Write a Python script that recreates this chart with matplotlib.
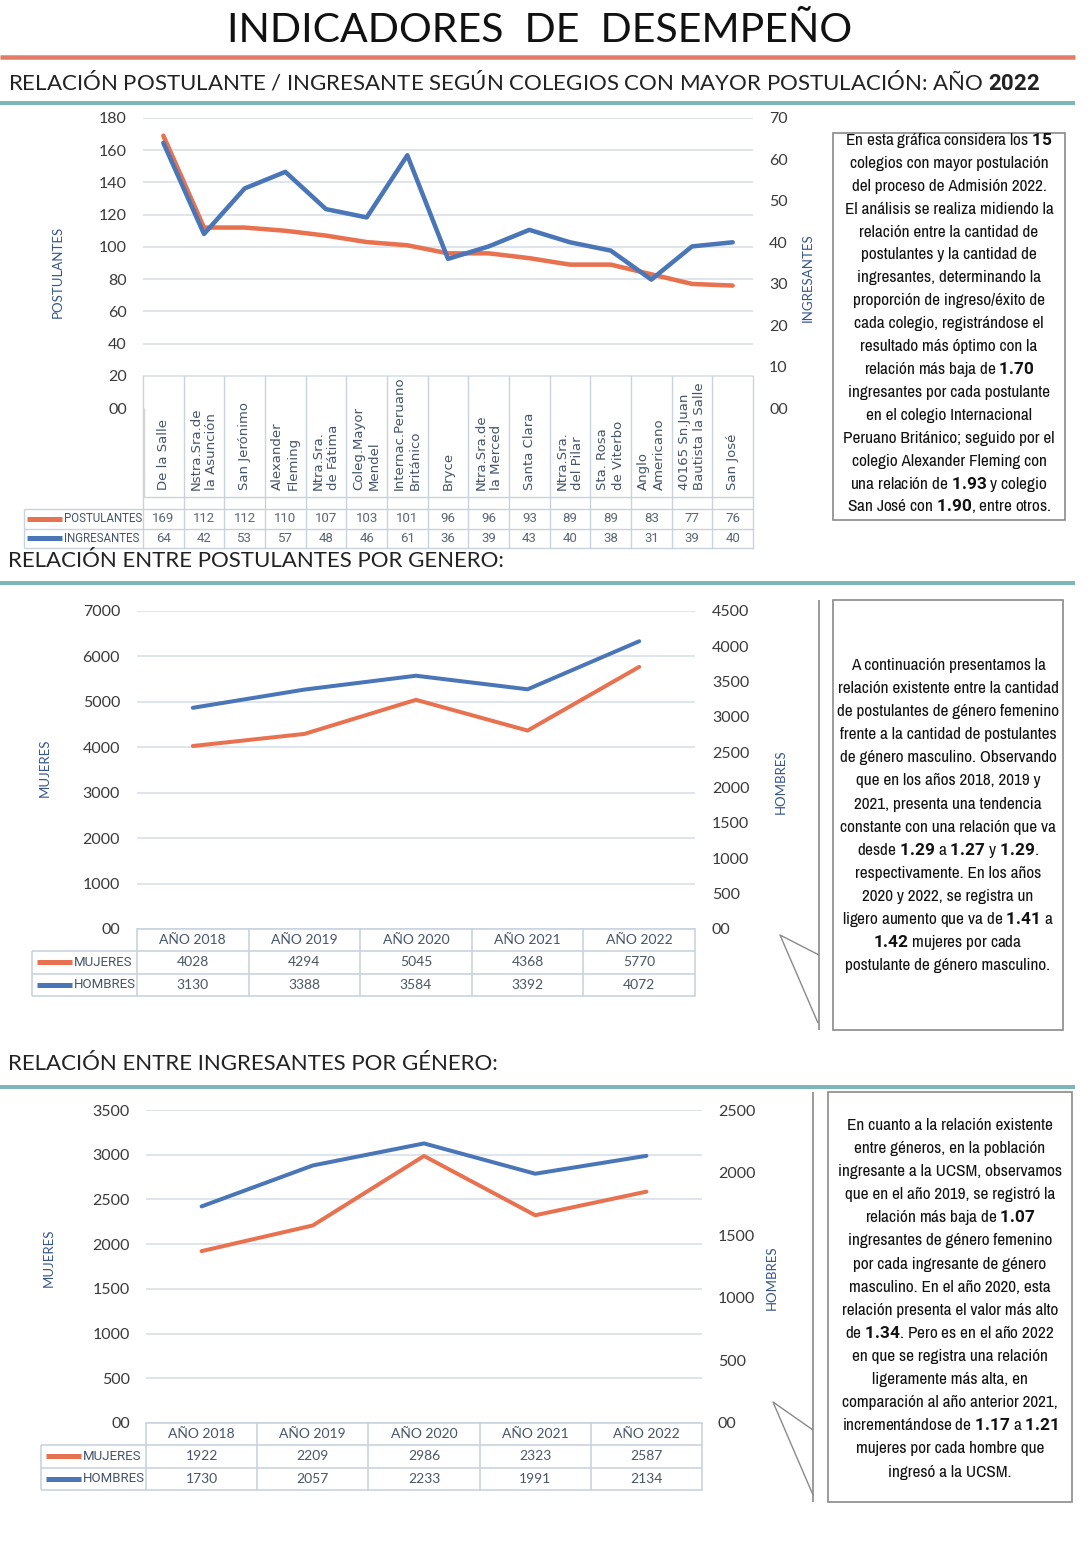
import re
import numpy as np
import matplotlib.pyplot as plt
from matplotlib import font_manager
from matplotlib.lines import Line2D
from matplotlib.patches import Rectangle
from matplotlib.ticker import FuncFormatter
from matplotlib.transforms import blended_transform_factory as blend

W, H = 1091, 1543

# --- datos ---------------------------------------------------------------
colegios = ['De la Salle', 'Nstra.Sra.de\nla Asunción', 'San Jerónimo', 'Alexander\nFleming',
            'Ntra.Sra.\nde Fátima', 'Coleg.Mayor\nMendel', 'Internac.Peruano\nBritánico', 'Bryce',
            'Ntra.Sra.de\nla Merced', 'Santa Clara', 'Ntra.Sra.\ndel Pilar', 'Sta. Rosa\nde Viterbo',
            'Anglo\nAmericano', '40165 Sn.Juan\nBautista la Salle', 'San José']
postulantes = [169, 112, 112, 110, 107, 103, 101, 96, 96, 93, 89, 89, 83, 77, 76]
ingresantes = [64, 42, 53, 57, 48, 46, 61, 36, 39, 43, 40, 38, 31, 39, 40]

anios = ['AÑO 2018', 'AÑO 2019', 'AÑO 2020', 'AÑO 2021', 'AÑO 2022']
post_mujeres = [4028, 4294, 5045, 4368, 5770]
post_hombres = [3130, 3388, 3584, 3392, 4072]
ingr_mujeres = [1922, 2209, 2986, 2323, 2587]
ingr_hombres = [1730, 2057, 2233, 1991, 2134]

texto1 = ['En esta gráfica considera los **15**', 'colegios con mayor postulación',
          'del proceso de Admisión 2022.', 'El análisis se realiza midiendo la',
          'relación entre la cantidad de', 'postulantes y la cantidad de',
          'ingresantes, determinando la', 'proporción de ingreso/éxito de',
          'cada colegio, registrándose el', 'resultado más óptimo con la',
          'relación más baja de **1.70**', 'ingresantes por cada postulante',
          'en el colegio Internacional', 'Peruano Británico; seguido por el',
          'colegio Alexander Fleming con', 'una relación de **1.93** y colegio',
          'San José con **1.90**, entre otros.']
texto2 = ['A continuación presentamos la', 'relación existente entre la cantidad',
          'de postulantes de género femenino', 'frente a la cantidad de postulantes',
          'de género masculino. Observando', 'que en los años 2018, 2019 y',
          '2021, presenta una tendencia', 'constante con una relación que va',
          'desde **1.29** a **1.27** y **1.29**.', 'respectivamente. En los años',
          '2020 y 2022, se registra un', 'ligero aumento que va de **1.41** a',
          '**1.42** mujeres por cada', 'postulante de género masculino.']
texto3 = ['En cuanto a la relación existente', 'entre géneros, en la población',
          'ingresante a la UCSM, observamos', 'que en el año 2019, se registró la',
          'relación más baja de **1.07**', 'ingresantes de género femenino',
          'por cada ingresante de género', 'masculino. En el año 2020, esta',
          'relación presenta el valor más alto', 'de **1.34**. Pero es en el año 2022',
          'en que se registra una relación', 'ligeramente más alta, en',
          'comparación al año anterior 2021,', 'incrementándose de **1.17** a **1.21**',
          'mujeres por cada hombre que', 'ingresó a la UCSM.']

# --- estilo ----------------------------------------------------------------
ORANGE = '#E8714F'
BLUE = '#4A76B8'
GRID = '#DCE3EC'
TICK = '#3A3A3A'
SLATE = '#44546A'
NAVY = '#35558C'
TEAL = '#7DB6B9'
HEAD = '#E27C66'
BORDER = '#C8D3E0'
SANS = ['Lato', 'DejaVu Sans']

# buscar una fuente estrecha si existe; si no, Roboto mas pequena
narrow = [f for f in font_manager.fontManager.ttflist
          if f.style == 'normal' and f.weight == 400
          and (f.stretch in ('condensed', 'semi-condensed')
               or 'Narrow' in f.name or 'Condensed' in f.name)]
narrow.sort(key=lambda f: f.name)
if narrow:
    NARROW, STRETCH, BOX_SIZE = [narrow[0].name, 'DejaVu Sans'], narrow[0].stretch, 12.4
else:
    NARROW, STRETCH, BOX_SIZE = ['Roboto', 'DejaVu Sans'], 'normal', 9.6

plt.rcParams['mathtext.fontset'] = 'custom'
plt.rcParams['mathtext.rm'] = 'Roboto'
plt.rcParams['mathtext.bf'] = 'Roboto:bold'
fig = plt.figure(figsize=(W / 100, H / 100), dpi=100)


def fx(x): return x / W
def fy(y): return 1 - y / H
def pt(px): return px * 0.72


def fline(xs, ys, color, lw):
    fig.add_artist(Line2D([fx(x) for x in xs], [fy(y) for y in ys], color=color,
                          lw=lw, transform=fig.transFigure, solid_capstyle='butt'))


def px_axes(x0, y0, x1, y1):
    return fig.add_axes([fx(x0), fy(y1), (x1 - x0) / W, (y1 - y0) / H])


zero_fmt = FuncFormatter(lambda v, _: '00' if v == 0 else f'{v:.0f}')


def setup_axes(box, llim, lstep, rlim, rstep, n, lpad, rpad):
    ax = px_axes(*box)
    ax.set_xlim(-0.5, n - 0.5)
    ax.set_ylim(0, llim)
    ax.set_yticks(np.arange(0, llim + 1, lstep))
    ax.set_xticks([])
    ax.yaxis.set_major_formatter(zero_fmt)
    ax.grid(axis='y', color=GRID, lw=1.3)
    ax.set_axisbelow(True)
    ax.tick_params(axis='y', length=0, pad=pt(lpad), labelsize=11.5, labelcolor=TICK,
                   labelfontfamily='Lato')
    ax2 = ax.twinx()
    ax2.set_ylim(0, rlim)
    ax2.set_yticks(np.arange(0, rlim + 1, rstep))
    ax2.yaxis.set_major_formatter(zero_fmt)
    ax2.tick_params(axis='y', length=0, pad=pt(rpad), labelsize=11.5, labelcolor=TICK,
                    labelfontfamily='Lato')
    for a in (ax, ax2):
        for s in a.spines.values():
            s.set_visible(False)
    return ax, ax2


def legend_cell(x0, y, color, label, size):
    fline([x0, x0 + 35], [y, y], color, pt(5))
    fig.text(fx(x0 + 37), fy(y), label, color=SLATE, fontsize=size, va='center',
             ha='left', family=['Roboto', 'DejaVu Sans'])


def text_box(lines, cx, y_first, step):
    for i, s in enumerate(lines):
        s = re.sub(r'\*\*(.+?)\*\*', r'$\\mathbf{\1}$', s)
        fig.text(fx(cx), fy(y_first + i * step + 5), s, ha='center', va='baseline',
                 fontsize=BOX_SIZE, family=NARROW, fontstretch=STRETCH, color='#111111')


# --- cabecera ---------------------------------------------------------------
fig.text(fx(540), fy(31), 'INDICADORES  DE  DESEMPEÑO', ha='center', va='center',
         fontsize=29.5, family=SANS, color='#111111')
fline([0, 1075], [57, 57], HEAD, pt(4.5))
fig.text(fx(8), fy(81), r'RELACIÓN POSTULANTE / INGRESANTE SEGÚN COLEGIOS CON MAYOR POSTULACIÓN: AÑO $\mathbf{2022}$',
         ha='left', va='center', fontsize=16, family=SANS, color='#222222')
fline([0, 1075], [103, 103], TEAL, pt(4))

# --- grafico 1: colegios ---------------------------------------------------
n1 = len(colegios)
x1 = np.arange(n1)
ax, ax2 = setup_axes((143, 118, 753, 408), 180, 20, 70, 10, n1, 16, 16)
ax.get_ygridlines()[0].set_visible(False)
ax.plot(x1, postulantes, color=ORANGE, lw=pt(4.5), solid_capstyle='round', zorder=3)
ax2.plot(x1, ingresantes, color=BLUE, lw=pt(4.5), solid_capstyle='round', zorder=3)

tr = blend(ax.transData, fig.transFigure)
for k in range(n1 + 1):
    ax.add_line(Line2D([k - 0.5, k - 0.5], [fy(376), fy(548)], color=BORDER, lw=1,
                       transform=tr, clip_on=False))
for y in (497, 509, 529, 548):
    ax.add_line(Line2D([-0.5, n1 - 0.5], [fy(y), fy(y)], color=BORDER, lw=1,
                       transform=tr, clip_on=False))
for y in (509, 529, 548):
    fline([24, 143], [y, y], BORDER, 1)
fline([24, 24], [509, 548], BORDER, 1)
fline([144, 144], [408, 497], '#D5D5D5', 1)
for i, name in enumerate(colegios):
    ax.text(i, fy(490), name, transform=tr, rotation=90, ha='center', va='bottom',
            multialignment='left', fontsize=9.5, color=SLATE, family=['DejaVu Sans'],
            linespacing=1.25)
    ax.text(i, fy(519), str(postulantes[i]), transform=tr, ha='center', va='center',
            fontsize=9.5, color='#5B6675', family=['Roboto', 'DejaVu Sans'])
    ax.text(i, fy(538), str(ingresantes[i]), transform=tr, ha='center', va='center',
            fontsize=9.5, color='#5B6675', family=['Roboto', 'DejaVu Sans'])
legend_cell(27, 519, ORANGE, 'POSTULANTES', 8.3)
legend_cell(27, 538, BLUE, 'INGRESANTES', 8.3)
fig.text(fx(58), fy(272), 'POSTULANTES', rotation=90, ha='center', va='center',
         fontsize=9.5, color=NAVY, family=SANS)
fig.text(fx(808), fy(278), 'INGRESANTES', rotation=90, ha='center', va='center',
         fontsize=9.5, color=NAVY, family=SANS)

fig.add_artist(Rectangle((fx(833), fy(520)), (1065 - 833) / W, (520 - 133) / H,
                         fill=False, ec='#8A8A8A', lw=1.2, transform=fig.transFigure))
text_box(texto1, 949, 140, 22.9)


# --- graficos por genero ---------------------------------------------------
def year_table(ax, top, left, right, mujeres, hombres):
    n = len(anios)
    rh = 22.3
    tr = blend(ax.transData, fig.transFigure)
    x0 = ax.get_position().x0 * W
    fline([x0, right], [top, top], BORDER, 1.2)
    for r in (1, 2, 3):
        fline([left, right], [top + r * rh] * 2, BORDER, 1.2)
    fline([left, left], [top + rh, top + 3 * rh], BORDER, 1.2)
    for k in range(n + 1):
        ax.add_line(Line2D([k - 0.5, k - 0.5], [fy(top), fy(top + 3 * rh)], color=BORDER,
                           lw=1.2, transform=tr, clip_on=False))
    for i in range(n):
        for r, s in enumerate((anios[i], mujeres[i], hombres[i])):
            ax.text(i, fy(top + (r + 0.5) * rh), str(s), transform=tr, ha='center',
                    va='center', fontsize=10, color=SLATE if r == 0 else '#4A5566',
                    family=SANS)
    legend_cell(left + 5, top + 1.5 * rh, ORANGE, 'MUJERES', 9.5)
    legend_cell(left + 5, top + 2.5 * rh, BLUE, 'HOMBRES', 9.5)


# grafico 2: postulantes por genero
fig.text(fx(8), fy(561), 'RELACIÓN ENTRE POSTULANTES POR GENERO:', ha='left', va='center',
         fontsize=16, family=SANS, color='#222222')
fline([0, 1075], [583, 583], TEAL, pt(4))
n2 = len(anios)
ax, ax2 = setup_axes((137, 611, 695, 929), 7000, 1000, 4500, 500, n2, 17, 17)
ax.plot(np.arange(n2), post_mujeres, color=ORANGE, lw=pt(4), solid_capstyle='round')
ax2.plot(np.arange(n2), post_hombres, color=BLUE, lw=pt(4), solid_capstyle='round')
year_table(ax, 929, 32, 695, post_mujeres, post_hombres)
fig.text(fx(45), fy(768), 'MUJERES', rotation=90, ha='center', va='center',
         fontsize=9.5, color=NAVY, family=SANS)
fig.text(fx(781), fy(782), 'HOMBRES', rotation=90, ha='center', va='center',
         fontsize=9.5, color=NAVY, family=SANS)
fline([819, 819], [600, 1030], '#8A8A8A', 1.2)
fline([818, 780, 819], [1023, 935, 955], '#8A8A8A', 1)
fig.add_artist(Rectangle((fx(833), fy(1030)), (1063 - 833) / W, (1030 - 600) / H,
                         fill=False, ec='#8A8A8A', lw=1.2, transform=fig.transFigure))
text_box(texto2, 948, 665, 23.1)

# grafico 3: ingresantes por genero
fig.text(fx(8), fy(1064), 'RELACIÓN ENTRE INGRESANTES POR GÉNERO:', ha='left', va='center',
         fontsize=16, family=SANS, color='#222222')
fline([0, 1075], [1087, 1087], TEAL, pt(4))
ax, ax2 = setup_axes((146, 1110, 702, 1423), 3500, 500, 2500, 500, n2, 16, 16)
ax.plot(np.arange(n2), ingr_mujeres, color=ORANGE, lw=pt(4), solid_capstyle='round')
ax2.plot(np.arange(n2), ingr_hombres, color=BLUE, lw=pt(4), solid_capstyle='round')
year_table(ax, 1423, 41, 702, ingr_mujeres, ingr_hombres)
fig.text(fx(49), fy(1258), 'MUJERES', rotation=90, ha='center', va='center',
         fontsize=9.5, color=NAVY, family=SANS)
fig.text(fx(772), fy(1278), 'HOMBRES', rotation=90, ha='center', va='center',
         fontsize=9.5, color=NAVY, family=SANS)
fline([813, 813], [1092, 1502], '#8A8A8A', 1.2)
fline([813, 773, 813], [1495, 1402, 1430], '#8A8A8A', 1)
fig.add_artist(Rectangle((fx(828), fy(1502)), (1072 - 828) / W, (1502 - 1092) / H,
                         fill=False, ec='#8A8A8A', lw=1.2, transform=fig.transFigure))
text_box(texto3, 950, 1125, 23.1)

fig.savefig('out.png', dpi=100)
